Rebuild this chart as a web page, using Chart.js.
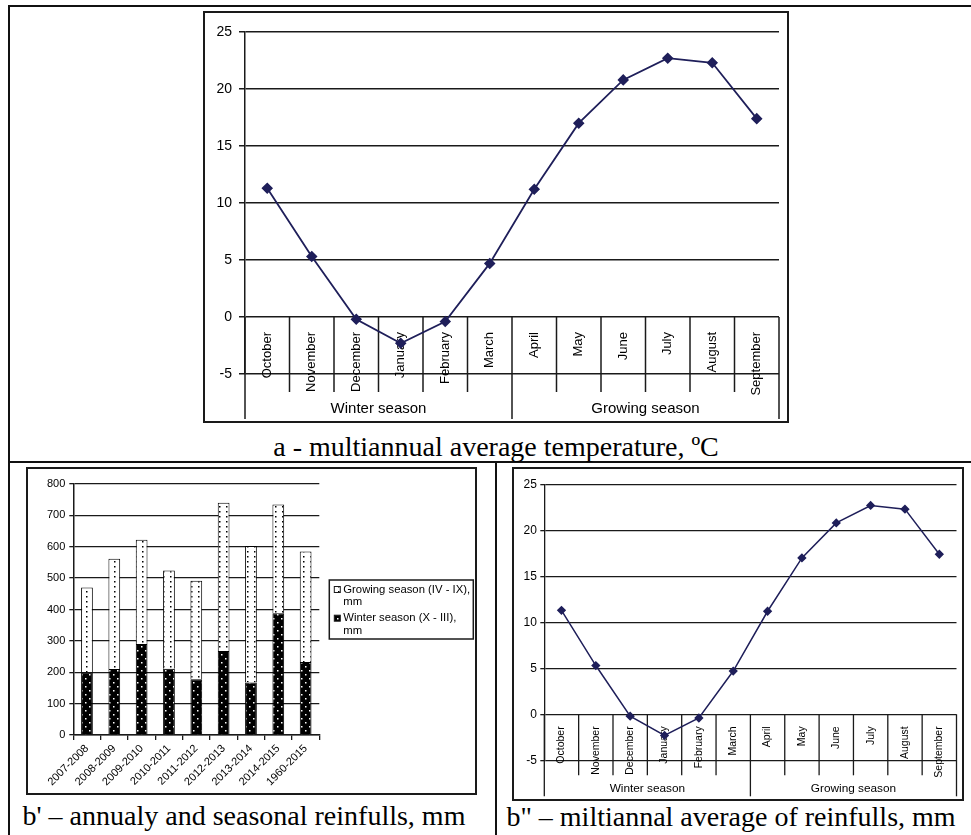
<!DOCTYPE html>
<html>
<head>
<meta charset="utf-8">
<script src="https://cdn.jsdelivr.net/npm/chart.js@4.4.1/dist/chart.umd.min.js"></script>
<style>
  html, body { margin: 0; padding: 0; background: #fff; }
  body { position: relative; width: 971px; height: 835px; overflow: hidden; }
  .frame { position: absolute; left: 8px; top: 5px; width: 1100px; height: 1000px; border: 2px solid #111; }
  .rule { position: absolute; background: #111; }
  .box { position: absolute; border: 2px solid #1a1a1a; box-sizing: border-box; background: #fff; }
  .box canvas { display: block; }
  .caption { position: absolute; text-align: center; font-family: "Liberation Serif", "Times New Roman", serif; font-size: 28px; line-height: 28px; white-space: nowrap; color: #000; }
</style>
</head>
<body>
<div class="frame"></div>
<div class="rule" style="left:9px; top:461px; width:1000px; height:2px;"></div>
<div class="rule" style="left:495px; top:462px; width:2px; height:400px;"></div>

<div class="box" style="left:203px; top:11px; width:586px; height:412px;"><canvas id="tempChart" width="582" height="408"></canvas></div>
<div class="caption" style="left:196px; top:433px; width:600px;">a - multiannual average temperature, ºC</div>

<div class="box" style="left:26px; top:467px; width:451px; height:328px;"><canvas id="rainChart" width="447" height="324"></canvas></div>
<div class="caption" style="left:4px; top:802px; width:480px;">b' – annualy and seasonal reinfulls, mm</div>

<div class="box" style="left:512px; top:467px; width:452px; height:334px;"><canvas id="avgChart" width="448" height="330"></canvas></div>
<div class="caption" style="left:491px; top:803px; width:480px;">b" – miltiannal average of reinfulls, mm</div>

<script>
// monthly means, hydrological year order
const months = ['October', 'November', 'December', 'January', 'February', 'March',
                'April', 'May', 'June', 'July', 'August', 'September'];
const seasons = ['Winter season', 'Growing season'];
const seasonSpan = [6, 6];
const temperature = [11.3, 5.3, -0.2, -2.3, -0.4, 4.7, 11.2, 17.0, 20.8, 22.7, 22.3, 17.4];

// seasonal rainfall per year, mm
const periods = ['2007-2008', '2008-2009', '2009-2010', '2010-2011', '2011-2012',
                 '2012-2013', '2013-2014', '2014-2015', '1960-2015'];
const winterRain = [200, 210, 290, 211, 178, 268, 167, 388, 233];
const growingRain = [270, 352, 332, 313, 314, 472, 435, 347, 352];
const winterLegend = ['Winter season (X - III),', 'mm'];
const growingLegend = ['Growing season (IV - IX),', 'mm'];

const ink = '#1a1a1a';
const navy = '#1f1f5a';
const sans = '"Liberation Sans", Arial, sans-serif';

Chart.defaults.font.family = sans;
Chart.defaults.color = '#000';

// month / season table hanging under the zero line
const seasonTable = {
  id: 'seasonTable',
  beforeDatasetsDraw(chart, args, opts) {
    const { ctx } = chart;
    const x = chart.scales.x, y = chart.scales.y;
    const y0 = y.getPixelForValue(0);
    const step = x.getPixelForValue(1) - x.getPixelForValue(0);
    const start = x.getPixelForValue(0) - step / 2;

    const edges = [0];
    seasonSpan.forEach(n => edges.push(edges[edges.length - 1] + n));

    ctx.save();
    ctx.strokeStyle = ink;
    ctx.lineWidth = opts.lineWidth;
    for (let i = 0; i <= months.length; i++) {
      const bx = start + i * step;
      const depth = edges.includes(i) ? opts.seasonDepth : opts.monthDepth;
      ctx.beginPath();
      ctx.moveTo(bx, y0);
      ctx.lineTo(bx, y0 + depth);
      ctx.stroke();
    }

    ctx.fillStyle = '#000';
    ctx.font = opts.monthSize + 'px ' + sans;
    ctx.textAlign = 'right';
    ctx.textBaseline = 'middle';
    months.forEach((m, i) => {
      ctx.save();
      ctx.translate(x.getPixelForValue(i), y0 + opts.monthTop);
      ctx.rotate(-Math.PI / 2);
      ctx.fillText(m, 0, 0);
      ctx.restore();
    });

    ctx.font = opts.seasonSize + 'px ' + sans;
    ctx.textAlign = 'center';
    seasons.forEach((s, k) => {
      const cx = start + (edges[k] + edges[k + 1]) / 2 * step;
      ctx.fillText(s, cx, y0 + opts.seasonMid);
    });
    ctx.restore();
  }
};

// framed legend to the right of the bars
const boxLegend = {
  id: 'boxLegend',
  afterDraw(chart, args, opts) {
    const { ctx, chartArea } = chart;
    const left = chartArea.right + opts.gap;
    const top = (chartArea.top + chartArea.bottom) / 2 - opts.height / 2;
    ctx.save();
    ctx.strokeStyle = ink;
    ctx.lineWidth = 1.5;
    ctx.strokeRect(left, top, opts.width, opts.height);
    ctx.font = opts.size + 'px ' + sans;
    ctx.textAlign = 'left';
    ctx.textBaseline = 'middle';
    chart.data.datasets.slice().reverse().forEach((ds, k) => {
      const rowTop = top + opts.first + k * opts.itemHeight;
      ctx.fillStyle = ds.backgroundColor;
      ctx.fillRect(left + 5, rowTop - 3, 6, 6);
      ctx.lineWidth = 1;
      ctx.strokeRect(left + 5, rowTop - 3, 6, 6);
      ctx.fillStyle = '#000';
      ds.legendLines.forEach((t, j) => ctx.fillText(t, left + 14, rowTop + j * opts.lineHeight));
    });
    ctx.restore();
  }
};

function dotPattern(bg, dot, w, h, spots, size) {
  const c = document.createElement('canvas');
  c.width = w;
  c.height = h;
  const g = c.getContext('2d');
  g.fillStyle = bg;
  g.fillRect(0, 0, w, h);
  g.fillStyle = dot;
  spots.forEach(([px, py]) => g.fillRect(px, py, size, size));
  return g.createPattern(c, 'repeat');
}

function drawTemperature(id, look) {
  return new Chart(document.getElementById(id), {
    type: 'line',
    data: {
      labels: months,
      datasets: [{
        data: temperature,
        borderColor: navy,
        backgroundColor: navy,
        borderWidth: look.line,
        pointStyle: 'rectRot',
        pointRadius: look.point,
        pointBackgroundColor: navy,
        pointBorderColor: navy,
        tension: 0,
        fill: false
      }]
    },
    options: {
      responsive: false,
      animation: false,
      layout: { padding: look.padding },
      plugins: {
        legend: { display: false },
        tooltip: { enabled: false },
        seasonTable: look.table
      },
      scales: {
        x: { display: false, offset: true },
        y: {
          min: -5,
          max: 25,
          ticks: { stepSize: 5, color: '#000', font: { size: look.tickSize }, padding: look.tickPad },
          grid: { color: ink, lineWidth: look.grid, tickLength: look.tickLen, tickColor: ink },
          border: { color: ink, width: look.grid },
          afterFit(scale) { scale.width = look.axisWidth; }
        }
      }
    },
    plugins: [seasonTable]
  });
}

drawTemperature('tempChart', {
  padding: { left: 0, top: 19, right: 8, bottom: 47 },
  axisWidth: 40,
  tickSize: 14, tickPad: 7, tickLen: 6,
  grid: 1.5, line: 1.8, point: 4.5,
  table: { lineWidth: 1.5, monthDepth: 75, seasonDepth: 102, monthTop: 15, seasonMid: 92, monthSize: 13, seasonSize: 15 }
});

drawTemperature('avgChart', {
  padding: { left: 0, top: 15.3, right: 5.3, bottom: 38.7 },
  axisWidth: 30.3,
  tickSize: 12, tickPad: 3.5, tickLen: 4,
  grid: 1.3, line: 1.5, point: 3.6,
  table: { lineWidth: 1.3, monthDepth: 61, seasonDepth: 82, monthTop: 12, seasonMid: 74, monthSize: 10.5, seasonSize: 11.8 }
});

const winterFill = dotPattern('#000', '#fff', 8, 8, [[1, 1], [5, 5]], 1.5);
const growingFill = dotPattern('#fff', '#000', 7, 5, [[2, 2]], 1.5);

new Chart(document.getElementById('rainChart'), {
  type: 'bar',
  data: {
    labels: periods,
    datasets: [{
      label: winterLegend.join(' '),
      legendLines: winterLegend,
      data: winterRain,
      backgroundColor: winterFill,
      borderColor: '#000',
      borderWidth: 1,
      categoryPercentage: 1,
      barPercentage: 0.43
    }, {
      label: growingLegend.join(' '),
      legendLines: growingLegend,
      data: growingRain,
      backgroundColor: growingFill,
      borderColor: '#000',
      borderWidth: 1,
      categoryPercentage: 1,
      barPercentage: 0.43
    }]
  },
  options: {
    responsive: false,
    animation: false,
    layout: { padding: { left: 0, top: 15, right: 155.7, bottom: 0 } },
    plugins: {
      legend: { display: false },
      tooltip: { enabled: false },
      boxLegend: { gap: 10, width: 144, height: 59, first: 9.5, itemHeight: 28.7, lineHeight: 12.5, size: 11.3 }
    },
    scales: {
      x: {
        stacked: true,
        ticks: { minRotation: 45, maxRotation: 45, autoSkip: false, color: '#000', font: { size: 11 }, padding: 2 },
        grid: { drawOnChartArea: false, tickLength: 5, color: ink, lineWidth: 1.3 },
        border: { color: ink, width: 1.5 },
        afterFit(scale) { scale.height = 58; }
      },
      y: {
        stacked: true,
        min: 0,
        max: 800,
        ticks: { stepSize: 100, color: '#000', font: { size: 11 }, padding: 4 },
        grid: { color: ink, lineWidth: 1.3, tickLength: 4 },
        border: { color: ink, width: 1.5 },
        afterFit(scale) { scale.width = 45.3; }
      }
    }
  },
  plugins: [boxLegend]
});
</script>
</body>
</html>
